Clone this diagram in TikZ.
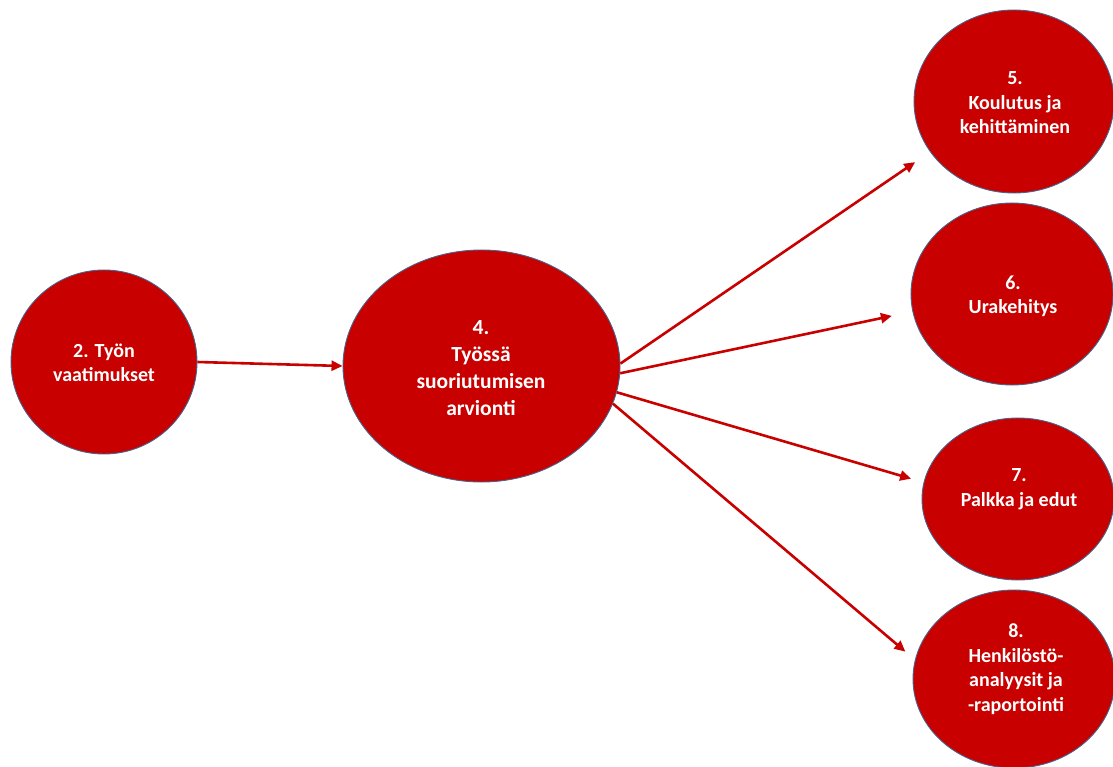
\documentclass[tikz,border=0pt]{standalone}
\usepackage{fontspec}
\setmainfont{Carlito}
\usetikzlibrary{arrows.meta,shapes.geometric}
\definecolor{nodered}{RGB}{200,0,0}
\definecolor{rimblue}{RGB}{70,100,140}
\tikzset{
  bubble/.style={ellipse, fill=nodered, draw=rimblue, line width=0.9pt, inner sep=0pt},
  btext/.style={text=white, font=\bfseries\fontsize{20}{24.5}\selectfont, align=center, inner sep=0pt},
  bigtext/.style={btext, font=\bfseries\fontsize{21.5}{27}\selectfont},
  link/.style={draw=nodered, line width=2.6pt, -{Triangle[length=11pt,width=10pt]}}
}
\begin{document}
\begin{tikzpicture}[x=1pt,y=-1pt]
\useasboundingbox (0,0) rectangle (1113,767);
% ellipses
\node[bubble, minimum width=186pt, minimum height=184pt] (n2) at (104,362) {};
\node[bubble, minimum width=277pt, minimum height=232pt] (n4) at (481.5,366) {};
\node[bubble, minimum width=200pt, minimum height=183pt] (n5) at (1014,101.5) {};
\node[bubble, minimum width=202pt, minimum height=182pt] (n6) at (1012,294) {};
\node[bubble, minimum width=192pt, minimum height=162pt] (n7) at (1018,499) {};
\node[bubble, minimum width=202pt, minimum height=178pt] (n8) at (1014,679) {};
% texts
\node[btext] (t2) at (104,363) {2. Työn\\vaatimukset};
\node[bigtext] (t4) at (481,368) {4.\\Työssä\\suoriutumisen\\arvionti};
\node[btext] (t5) at (1015,103) {5.\\Koulutus ja\\kehittäminen};
\node[btext] (t6) at (1013,296) {6.\\Urakehitys};
\node[btext] (t7) at (1019,489) {7.\\Palkka ja edut};
\node[btext] (t8) at (1016,669) {8.\\Henkilöstö-\\analyysit ja\\-raportointi};
% connectors
\draw[link] (n2.east) -- (n4.west);
\draw[link, shorten >=18pt] (n4.1) -- (n5.211);
\draw[link, shorten >=21pt] (n4.-3) -- (n6.190);
\draw[link, shorten >=13pt] (n4.-11) -- (n7.170.5);
\draw[link, shorten >=12.5pt] (n4.-16.5) -- (n8.169.3);
\end{tikzpicture}
\end{document}
